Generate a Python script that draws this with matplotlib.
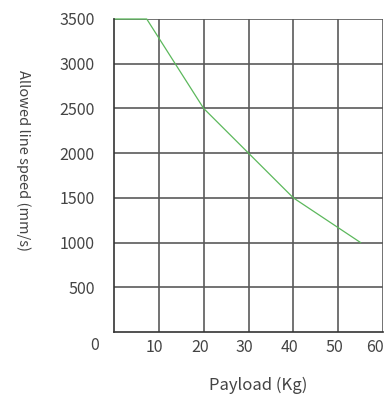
import matplotlib
matplotlib.use("Agg")
import matplotlib.pyplot as plt
import matplotlib.transforms as mtransforms

payload = [0, 7.3, 20, 30, 40, 55]
speed = [3500, 3500, 2500, 2000, 1500, 1000]
x_ticks = [10, 20, 30, 40, 50, 60]
y_ticks = [500, 1000, 1500, 2000, 2500, 3000, 3500]

plt.rcParams['font.family'] = ['Noto Sans CJK SC', 'DejaVu Sans']
txt = '#444444'

fig = plt.figure(figsize=(3.9, 4.01), dpi=100)
ax = fig.add_axes([114/390, 1-332/401, (383-114)/390, (332-19)/401])
ax.set_xlim(0, 60)
ax.set_ylim(0, 3500)
ax.set_xticks(x_ticks)
ax.set_yticks(y_ticks)
ax.grid(True, color='#5a5a5a', linewidth=1.2)
ax.set_axisbelow(True)
for s in ['top', 'right']:
    ax.spines[s].set_visible(False)
for s in ['left', 'bottom']:
    ax.spines[s].set_color('#333333')
    ax.spines[s].set_linewidth(1.2)
ax.tick_params(length=0, labelsize=11.5, labelcolor=txt)
ax.tick_params(axis='y', pad=14)
ax.tick_params(axis='x', pad=5)
for i, lab in enumerate(ax.get_xticklabels()):
    dx = -8 if i == len(x_ticks) - 1 else -4
    lab.set_transform(lab.get_transform() + mtransforms.ScaledTranslation(dx/100, 0, fig.dpi_scale_trans))
ax.plot(payload, speed, color='#5cb85c', linewidth=0.9, clip_on=False)
fig.text(99/390, 1-345/401, '0', ha='right', va='center', fontsize=11.5, color=txt)
fig.text(23/390, 1-160/401, 'Allowed line speed (mm/s)', rotation=270, ha='center', va='center', fontsize=10.5, color=txt)
fig.text(258/390, 1-385/401, 'Payload (Kg)', ha='center', va='center', fontsize=12, color=txt)
fig.savefig('out.png', dpi=100)
